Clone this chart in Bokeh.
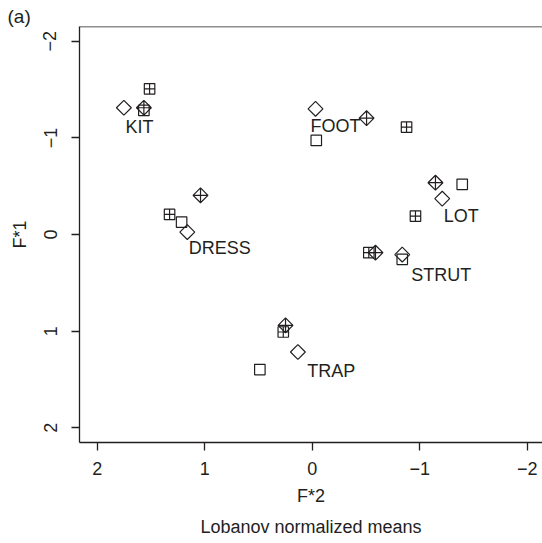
import math
from bokeh.plotting import figure
from bokeh.models import Range1d, FixedTicker, ColumnDataSource, Span, Title
from bokeh.core.properties import value
from bokeh.embed import file_html
from bokeh.resources import INLINE

FONT = "Liberation Sans"
INK = "#231f20"
FS = "18px"

# Vowel categories
vowels = ["KIT", "FOOT", "LOT", "STRUT", "DRESS", "TRAP"]

# F*2 (horizontal, reversed) and F*1 (vertical, reversed), four groups of means
diamond_f2 = [1.753, -0.030, -1.209, -0.837, 1.163, 0.134]
diamond_f1 = [-1.312, -1.301, -0.371, 0.208, -0.025, 1.216]

diamond_plus_f2 = [1.567, -0.505, -1.146, -0.588, 1.040, 0.249]
diamond_plus_f1 = [-1.312, -1.204, -0.536, 0.188, -0.405, 0.940]

square_f2 = [1.567, -0.037, -1.395, -0.837, 1.216, 0.488]
square_f1 = [-1.284, -0.974, -0.519, 0.257, -0.129, 1.398]

square_plus_f2 = [1.514, -0.877, -0.960, -0.526, 1.328, 0.270]
square_plus_f1 = [-1.508, -1.111, -0.191, 0.188, -0.208, 1.009]

# Where each vowel's name is written
label_f2 = [1.607, -0.216, -1.387, -1.200, 0.860, -0.177]
label_f1 = [-1.115, -1.120, -0.190, 0.422, 0.138, 1.413]

# Axis ticks and labels
x_ticks = [2, 1, 0, -1, -2]
x_tick_labels = ["2", "1", "0", "\u22121", "\u22122"]
y_ticks = [-2, -1, 0, 1, 2]
y_tick_labels = ["\u22122", "\u22121", "0", "1", "2"]

p = figure(width=542, height=543, output_backend="svg", toolbar_location=None,
           x_range=Range1d(2.166, -2.142), y_range=Range1d(2.153, -2.153),
           min_border_left=79, min_border_right=0, min_border_top=26,
           min_border_bottom=101, x_axis_label="F*2", y_axis_label="F*1")
p.grid.visible = False
p.outline_line_color = None
p.background_fill_color = "white"
p.border_fill_color = "white"

# panel tag "(a)" at the upper left
p.title.text = "(a)"
p.title.align = "left"
p.title.offset = -72
p.title.standoff = 0
p.title.text_font = FONT
p.title.text_font_size = "19px"
p.title.text_font_style = "normal"
p.title.text_color = INK

for ax, ticks, labels in [(p.xaxis[0], x_ticks, x_tick_labels),
                          (p.yaxis[0], y_ticks, y_tick_labels)]:
    ax.ticker = FixedTicker(ticks=ticks)
    ax.major_label_overrides = {t: l for t, l in zip(ticks, labels)}
    ax.axis_line_color = INK
    ax.axis_line_width = 1.3
    ax.major_tick_line_color = INK
    ax.major_tick_line_width = 1.3
    ax.major_tick_in = 0
    ax.major_tick_out = 8
    ax.minor_tick_in = 0
    ax.minor_tick_out = 0
    ax.major_label_text_font = FONT
    ax.major_label_text_font_size = FS
    ax.major_label_text_color = INK
    ax.axis_label_text_font = FONT
    ax.axis_label_text_font_size = FS
    ax.axis_label_text_font_style = "normal"
    ax.axis_label_text_color = INK

p.yaxis[0].major_label_orientation = "vertical"
p.xaxis[0].major_label_standoff = 11
p.xaxis[0].axis_label_standoff = 8
p.yaxis[0].major_label_standoff = 15
p.yaxis[0].axis_label_standoff = 11

# box line along the top of the plotting region
p.add_layout(Span(location=p.y_range.end, dimension="width",
                  line_color=INK, line_width=1.3))

mk = dict(size=10.5, fill_color=None, line_color=INK, line_width=1.2)
p.scatter(diamond_f2, diamond_f1, marker="square", angle=math.pi / 4, **mk)
p.scatter(diamond_plus_f2, diamond_plus_f1, marker="square_x", angle=math.pi / 4, **mk)
p.scatter(square_f2, square_f1, marker="square", **mk)
p.scatter(square_plus_f2, square_plus_f1, marker="square_cross", **mk)

src = ColumnDataSource(dict(x=label_f2, y=label_f1, t=vowels))
p.text("x", "y", text="t", source=src, text_font=value(FONT), text_font_size=FS,
       text_color=INK, text_align="center", text_baseline="middle")

caption = Title(text="Lobanov normalized means", align="center", offset=1,
                standoff=13, text_font=FONT, text_font_size=FS,
                text_font_style="normal", text_color=INK)
p.add_layout(caption, "below")

open("out.html", "w").write(file_html(p, INLINE))
